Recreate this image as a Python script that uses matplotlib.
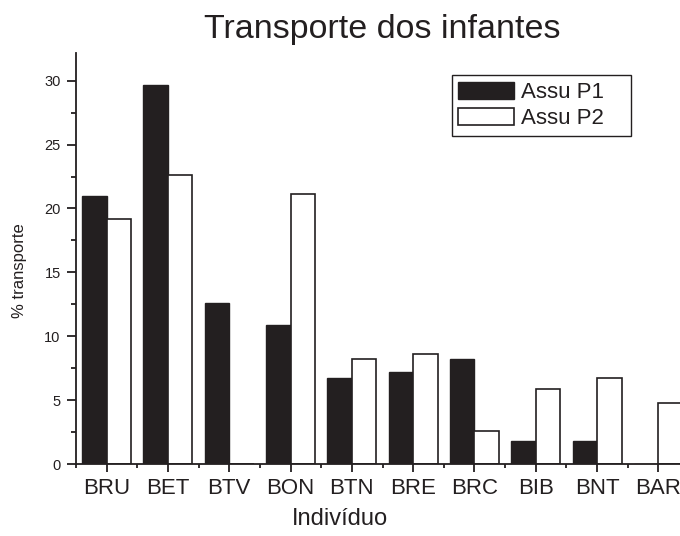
import matplotlib
matplotlib.use("Agg")
import matplotlib.pyplot as plt
import numpy as np
from matplotlib.ticker import MultipleLocator, FixedLocator
from matplotlib.patches import Rectangle

plt.rcParams['font.family'] = ['Liberation Sans', 'DejaVu Sans']

categories = ["BRU", "BET", "BTV", "BON", "BTN", "BRE", "BRC", "BIB", "BNT", "BAR"]
assu_p1 = [21.0, 29.7, 12.6, 10.9, 6.75, 7.2, 8.2, 1.8, 1.8, 0.0]
assu_p2 = [19.2, 22.6, 0.0, 21.1, 8.25, 8.6, 2.55, 5.85, 6.7, 4.8]
series_names = ["Assu P1", "Assu P2"]
yticks = [0, 5, 10, 15, 20, 25, 30]

W, H = 680, 536
fig = plt.figure(figsize=(W / 100, H / 100), dpi=100)
left, right_px, top_px, bottom_px = 76, 689, 53, 464
aw, ah = right_px - left, bottom_px - top_px
ax = fig.add_axes([left / W, 1 - bottom_px / H, aw / W, ah / H])

x = np.arange(len(categories))
bw = 0.4
dark = "#231f20"
ax.bar(x - bw / 2, assu_p1, width=bw, color=dark, edgecolor=dark, linewidth=1.0, label=series_names[0])
ax.bar(x + bw / 2, assu_p2, width=bw, color="white", edgecolor=dark, linewidth=1.2, label=series_names[1])

ax.set_xlim(-0.5, len(categories) - 0.5)
ax.set_ylim(0, 32.17)

for s in ["top", "right"]:
    ax.spines[s].set_visible(False)
for s in ["left", "bottom"]:
    ax.spines[s].set_linewidth(1.3)
    ax.spines[s].set_color(dark)

ax.set_yticks(yticks)
ax.yaxis.set_minor_locator(MultipleLocator(2.5))
ax.set_xticks(x)
ax.set_xticklabels(categories)
ax.xaxis.set_minor_locator(FixedLocator(np.arange(-0.5, len(categories), 1.0)))

ax.tick_params(axis="y", which="major", direction="out", length=6.5, width=1.3, color=dark,
               labelsize=10.5, pad=4.5, labelcolor=dark)
ax.tick_params(axis="y", which="minor", direction="out", length=3.6, width=1.3, color=dark)
ax.tick_params(axis="x", which="major", direction="out", length=6, width=1.3, color=dark,
               labelsize=16, pad=4, labelcolor=dark)
ax.tick_params(axis="x", which="minor", direction="out", length=3, width=1.3, color=dark)

ax.set_title("Transporte dos infantes", fontsize=24.5, color=dark, pad=11)
ax.set_xlabel("Indivíduo", fontsize=17, color=dark, labelpad=5)
ax.xaxis.set_label_coords((340 - left) / aw, -0.108)
ax.xaxis.label.set_va("top")
ax.set_ylabel("% transporte", fontsize=12, color=dark)
ax.yaxis.set_label_coords((27 - left) / aw, 0.47)

lx0, ly0, lx1, ly1 = 451.7, 75, 631, 136
leg = ax.legend(loc="upper left",
                bbox_to_anchor=((lx0 - left) / aw, 1 - (ly0 - top_px) / ah),
                fontsize=16, frameon=False, handlelength=2.5, handleheight=0.85,
                handletextpad=0.3, borderpad=0.3, labelspacing=0.2, borderaxespad=0)
for t in leg.get_texts():
    t.set_color(dark)
ax.add_patch(Rectangle(((lx0 - left) / aw, 1 - (ly1 - top_px) / ah), (lx1 - lx0) / aw, (ly1 - ly0) / ah,
                       transform=ax.transAxes, fill=False, edgecolor=dark, linewidth=1.0, zorder=6))

fig.savefig("out.png", dpi=100)
